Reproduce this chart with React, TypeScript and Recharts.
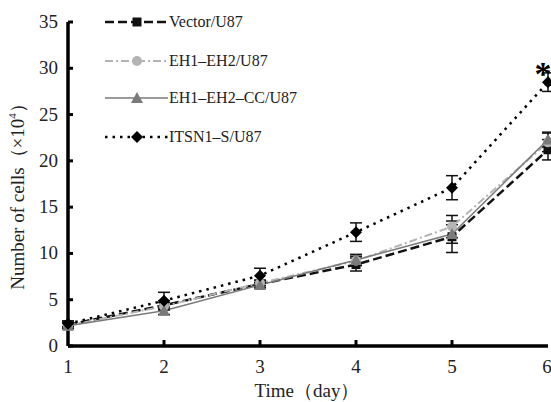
import { ErrorBar, Line, LineChart, ReferenceDot, XAxis, YAxis } from 'recharts';

const days = [1, 2, 3, 4, 5, 6];
const vector = [2.3, 4.4, 6.7, 8.8, 11.8, 21.2];
const vectorErr = [0.4, 0.5, 0.4, 0.7, 1.7, 1.1];
const eh = [2.2, 4.3, 6.8, 9.2, 12.9, 22.0];
const ehErr = [0.3, 0.4, 0.3, 0.5, 1.2, 1.0];
const cc = [2.2, 3.8, 6.6, 9.3, 12.1, 22.3];
const ccErr = [0.3, 0.4, 0.3, 0.6, 1.0, 0.8];
const itsn = [2.4, 4.9, 7.6, 12.3, 17.1, 28.5];
const itsnErr = [0.3, 0.9, 0.8, 1.0, 1.3, 1.0];
const yTicks = [0, 5, 10, 15, 20, 25, 30, 35];

const data = days.map((d, i) => ({
    day: d,
    vector: vector[i], vectorErr: vectorErr[i],
    eh: eh[i], ehErr: ehErr[i],
    cc: cc[i], ccErr: ccErr[i],
    itsn: itsn[i], itsnErr: itsnErr[i],
}));

const FONT = '"Liberation Serif", "Times New Roman", serif';

type Marker = 'square' | 'circle' | 'triangle' | 'diamond';

function drawMarker(kind: Marker, cx: number, cy: number, fill: string, key?: string | number) {
    switch (kind) {
        case 'square':
            return <rect key={key} x={cx - 4.5} y={cy - 4.5} width={9} height={9} fill={fill}/>;
        case 'circle':
            return <circle key={key} cx={cx} cy={cy} r={5} fill={fill}/>;
        case 'triangle':
            return <polygon key={key} points={`${cx},${cy - 6} ${cx - 6},${cy + 5} ${cx + 6},${cy + 5}`} fill={fill}/>;
        case 'diamond':
        default:
            return <polygon key={key} points={`${cx},${cy - 6} ${cx + 6},${cy} ${cx},${cy + 6} ${cx - 6},${cy}`} fill={fill}/>;
    }
}

const series = [
    { key: 'vector', err: 'vectorErr', name: 'Vector/U87', color: '#111', marker: 'square' as Marker, dash: '9 4', width: 2.5 },
    { key: 'eh', err: 'ehErr', name: 'EH1\u2013EH2/U87', color: '#b4b4b4', marker: 'circle' as Marker, dash: '8 3 2 3', width: 2 },
    { key: 'cc', err: 'ccErr', name: 'EH1\u2013EH2\u2013CC/U87', color: '#7a7a7a', marker: 'triangle' as Marker, dash: undefined, width: 1.5 },
    { key: 'itsn', err: 'itsnErr', name: 'ITSN1\u2013S/U87', color: '#000', marker: 'diamond' as Marker, dash: '2.5 5', width: 2.5 },
];

const legendRows = [22, 61, 98, 137];

function LegendBox() {
    return (
        <svg width={240} height={150} style={{ position: 'absolute', left: 105, top: 0 }}>
            {series.map((s, i) => {
                const y = legendRows[i];
                return (
                    <g key={s.key}>
                        <line x1={0} x2={63} y1={y} y2={y} stroke={s.color} strokeWidth={s.width} strokeDasharray={s.dash}/>
                        {drawMarker(s.marker, 32, y, s.color)}
                        <text x={64} y={y + 5} fontFamily={FONT} fontSize={16} fill="#222">{s.name}</text>
                    </g>
                );
            })}
        </svg>
    );
}

function YTick(props: any) {
    const { x, y, payload } = props;
    return (
        <g>
            <line x1={x + 10} x2={x + 15} y1={y} y2={y} stroke="#000" strokeWidth={3}/>
            <text x={x} y={y + 6} textAnchor="end" fontFamily={FONT} fontSize={19} fill="#222">{payload.value}</text>
        </g>
    );
}

function XTick(props: any) {
    const { x, y, payload } = props;
    return (
        <g>
            {payload.value > 1 && payload.value < 6 && (
                <line x1={x} x2={x} y1={y - 10} y2={y - 16} stroke="#000" strokeWidth={3}/>
            )}
            <text x={x} y={y + 17} textAnchor="middle" fontFamily={FONT} fontSize={19} fill="#222">{payload.value}</text>
        </g>
    );
}

export default function App() {
    return (
        <div style={{ position: 'absolute', left: 0, top: 0, width: 551, height: 402, background: '#fff' }}>
            <LineChart width={551} height={402} data={data} margin={{ top: 22, right: 3, bottom: 0, left: 0 }}>
                <XAxis
                    dataKey="day"
                    type="number"
                    domain={[1, 6]}
                    ticks={days}
                    height={56}
                    axisLine={{ stroke: '#000', strokeWidth: 3.5 }}
                    tickLine={false}
                    tickSize={0}
                    tickMargin={10}
                    tick={<XTick/>}
                    label={{
                        content: () => (
                            <text x={307} y={397} textAnchor="middle" fontFamily={FONT} fontSize={19} fill="#222">Time（day）</text>
                        ),
                    }}
                />
                <YAxis
                    type="number"
                    domain={[0, 35]}
                    ticks={yTicks}
                    width={68}
                    axisLine={{ stroke: '#000', strokeWidth: 3.5 }}
                    tickLine={false}
                    tickSize={0}
                    tickMargin={10}
                    tick={<YTick/>}
                    label={{
                        content: () => (
                            <text transform="translate(24,192) rotate(-90)" textAnchor="middle" fontFamily={FONT} fontSize={19} fill="#222">
                                Number of cells（×10<tspan fontSize={11} dy={-8}>4</tspan><tspan dy={8}>）</tspan>
                            </text>
                        ),
                    }}
                />
                {series.map((s) => (
                    <Line
                        key={s.key}
                        dataKey={s.key}
                        name={s.name}
                        type="linear"
                        stroke={s.color}
                        strokeWidth={s.width}
                        strokeDasharray={s.dash}
                        isAnimationActive={false}
                        dot={(p: any) => drawMarker(s.marker, p.cx, p.cy, s.color, `${s.key}-${p.index}`)}
                        activeDot={false}
                    >
                        <ErrorBar dataKey={s.err} direction="y" width={6} stroke="#111" strokeWidth={1.5}/>
                    </Line>
                ))}
                <ReferenceDot
                    x={6}
                    y={30.6}
                    r={0}
                    ifOverflow="visible"
                    label={{ value: '*', position: 'center', fontSize: 34, fontWeight: 'bold', fill: '#000', fontFamily: FONT, dy: 10, dx: -5 }}
                />
            </LineChart>
            <LegendBox/>
        </div>
    );
}
